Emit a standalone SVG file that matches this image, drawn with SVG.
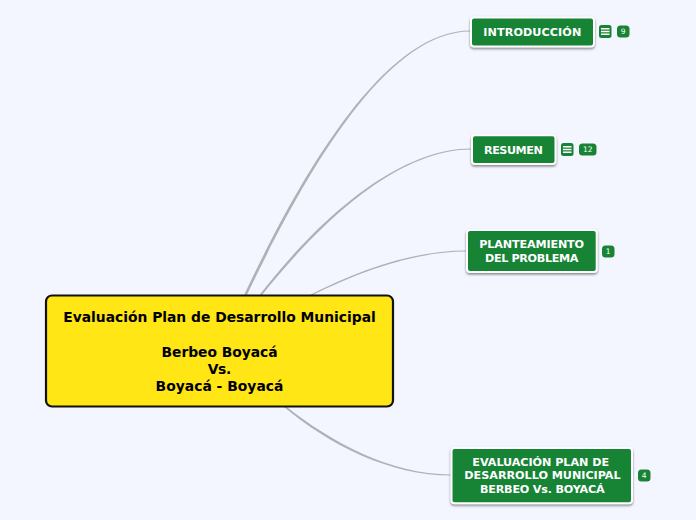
<svg xmlns="http://www.w3.org/2000/svg" width="696" height="520" viewBox="0 0 696 520">
<defs><filter id="sh" x="-10%" y="-20%" width="120%" height="140%"><feDropShadow dx="0" dy="1.5" stdDeviation="0.8" flood-color="#555" flood-opacity="0.7"/></filter></defs>
<style>
text{font-family:"DejaVu Sans",Verdana,sans-serif;font-weight:700;text-anchor:middle}
.n{fill:#188334;stroke:#fff;stroke-width:2;filter:url(#sh)}
.t{fill:#fff;font-size:11.2px}
.c{fill:#b0b1b5;stroke:none}
.b{fill:#188334}
.l{fill:#fff}
.m{fill:#fff;font-size:7.5px;font-weight:400}
.r{fill:#000;font-size:13.87px}
</style>
<rect width="696" height="520" fill="#f3f6ff"/>
<g id="connectors">
<path class="c" d="M243.600 296C294 189 380 30.400 470 30.400L470 31.600C381 31.600 297 191 246.400 296Z"/>
<path class="c" d="M258.800 296C314 224 395 148.400 471 148.400L471 149.600C396 149.600 317 226 261.200 296Z"/>
<path class="c" d="M308 296C360 269 415 250.400 466 250.400L466 251.600C415 251.600 361 271 310.500 296Z"/>
<path class="c" d="M283 406C329 445 390 475.600 451 475.600L451 474.400C390 474.400 331 442 285.500 406Z"/>
</g>
<g id="root">
<rect x="46" y="295.500" width="347" height="111" rx="6" fill="#ffe614" stroke="#111" stroke-width="2.200"/>
<text class="r" x="219.500" y="322" textLength="312.500">Evaluación Plan de Desarrollo Municipal</text>
<text class="r" x="219.500" y="356.500" textLength="116">Berbeo Boyacá</text>
<text class="r" x="219.400" y="374" textLength="23.500">Vs.</text>
<text class="r" x="219.500" y="391" textLength="127.800">Boyacá - Boyacá</text>
</g>
<g id="n1">
<rect class="n" x="471" y="17.500" width="123" height="29" rx="3"/>
<text class="t" x="532.300" y="36" textLength="98">INTRODUCCIÓN</text>
<rect class="b" x="599" y="25" width="12.500" height="13" rx="2.500"/>
<path class="l" d="M601 28h8.500v1.500h-8.500zM601 30.800h8.500v1.500h-8.500zM601 33.600h8.500v1.500h-8.500z"/>
<rect class="b" x="617" y="25.500" width="12.500" height="12" rx="3.500"/>
<text class="m" x="623.200" y="34.200">9</text>
</g>
<g id="n2">
<rect class="n" x="472" y="135.300" width="83.500" height="28.700" rx="3"/>
<text class="t" x="513.400" y="153.500" textLength="58.700">RESUMEN</text>
<rect class="b" x="561" y="143" width="12.500" height="13" rx="2.500"/>
<path class="l" d="M563 146h8.500v1.500h-8.500zM563 148.800h8.500v1.500h-8.500zM563 151.600h8.500v1.500h-8.500z"/>
<rect class="b" x="579" y="143.500" width="17.500" height="12" rx="3.500"/>
<text class="m" x="587.700" y="152.200">12</text>
</g>
<g id="n3">
<rect class="n" x="467" y="230" width="129.700" height="42" rx="3"/>
<text class="t" x="531.700" y="248" textLength="104.700">PLANTEAMIENTO</text>
<text class="t" x="531.700" y="262" textLength="93.300">DEL PROBLEMA</text>
<rect class="b" x="602" y="245.500" width="12.500" height="12" rx="3.500"/>
<text class="m" x="608.200" y="254.200">1</text>
</g>
<g id="n4">
<rect class="n" x="451.500" y="448" width="180.500" height="55.300" rx="3"/>
<text class="t" x="540.700" y="465.800" textLength="136.700">EVALUACIÓN PLAN DE</text>
<text class="t" x="542.500" y="479.300" textLength="156.300">DESARROLLO MUNICIPAL</text>
<text class="t" x="542.300" y="493" textLength="124.700">BERBEO Vs. BOYACÁ</text>
<rect class="b" x="638" y="469.500" width="12.500" height="12" rx="3.500"/>
<text class="m" x="644.200" y="478.200">4</text>
</g>
</svg>
